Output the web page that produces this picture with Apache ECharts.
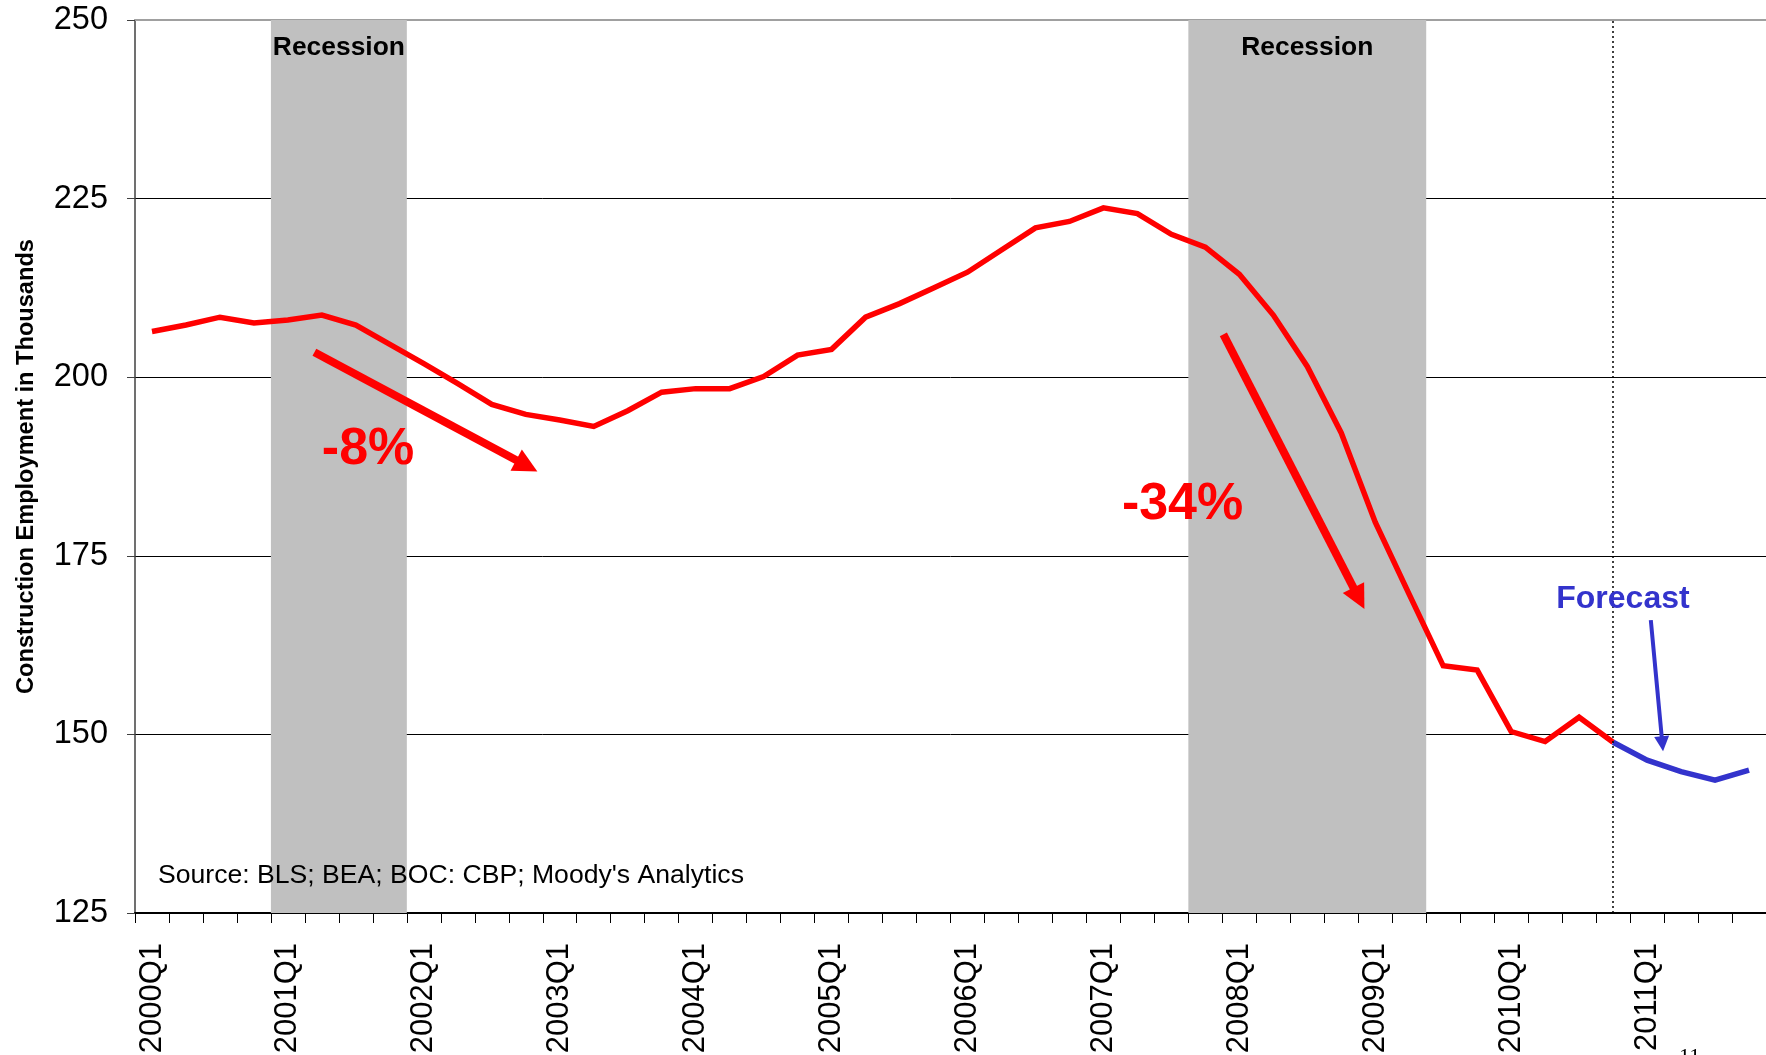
<!DOCTYPE html>
<html>
<head>
<meta charset="utf-8">
<script src="https://cdn.jsdelivr.net/npm/echarts/dist/echarts.min.js"></script>
<style>html,body{margin:0;padding:0;background:#fff;overflow:hidden}#c{width:1766px;height:1055px}</style>
</head>
<body>
<div id="c"></div>
<script>
// ---- data ----
const quarters = [
  '2000Q1','2000Q2','2000Q3','2000Q4','2001Q1','2001Q2','2001Q3','2001Q4',
  '2002Q1','2002Q2','2002Q3','2002Q4','2003Q1','2003Q2','2003Q3','2003Q4',
  '2004Q1','2004Q2','2004Q3','2004Q4','2005Q1','2005Q2','2005Q3','2005Q4',
  '2006Q1','2006Q2','2006Q3','2006Q4','2007Q1','2007Q2','2007Q3','2007Q4',
  '2008Q1','2008Q2','2008Q3','2008Q4','2009Q1','2009Q2','2009Q3','2009Q4',
  '2010Q1','2010Q2','2010Q3','2010Q4','2011Q1','2011Q2','2011Q3','2011Q4'
];
// actual construction employment, thousands (2000Q1 .. 2010Q4)
const actual = [
  206.4, 207.3, 208.4, 207.6, 208.0, 208.7, 207.3, 204.6,
  201.9, 199.1, 196.2, 194.8, 194.0, 193.1, 195.3, 197.9,
  198.4, 198.4, 200.1, 203.1, 203.9, 208.4, 210.3, 212.5,
  214.7, 217.8, 220.9, 221.8, 223.7, 222.9, 220.0, 218.2,
  214.4, 208.7, 201.5, 192.2, 179.7, 169.6, 159.6, 159.0,
  150.4, 149.0, 152.4, 148.9
];
// forecast (2010Q4 .. 2011Q4)
const forecastStart = '2010Q4';
const forecast = [148.9, 146.4, 144.8, 143.6, 145.0];
// recession periods (first and last quarter)
const recessions = [['2001Q1', '2001Q4'], ['2007Q4', '2009Q2']];
const recessionLabel = 'Recession';
// y axis ticks
const yMin = 125, yMax = 250, yStep = 25;
// annotations (positions in quarter-index / value units)
const notes = [
  { text: '-8%',      at: [6.36, 189.9], color: '#FF0000', size: 52 },
  { text: '-34%',     at: [30.33, 182.2], color: '#FF0000', size: 52 },
  { text: 'Forecast', at: [43.29, 168.9], color: '#3333CC', size: 32 }
];
const arrows = [
  { from: [4.78, 203.5], to: [11.03, 187.6], color: '#FF0000', width: 8, head: 24 },
  { from: [31.53, 206.0], to: [35.52, 169.05], color: '#FF0000', width: 8, head: 24 },
  { from: [44.11, 166.0], to: [44.45, 148.7], color: '#3333CC', width: 4, head: 15 }
];
const sourceText = "Source: BLS; BEA; BOC: CBP; Moody's Analytics";
const yTitle = 'Construction Employment in Thousands';

// ---- build ----
const FONT = "'Liberation Sans', Arial, Helvetica, sans-serif";
const idx = q => quarters.indexOf(q);
const actualSeries = quarters.map((q, i) => i < actual.length ? actual[i] : null);
const fStart = idx(forecastStart);
const forecastSeries = quarters.map((q, i) => (i >= fStart && i - fStart < forecast.length) ? forecast[i - fStart] : null);

const chart = echarts.init(document.getElementById('c'), null, { renderer: 'canvas' });
chart.setOption({
  animation: false,
  backgroundColor: '#fff',
  textStyle: { fontFamily: FONT },
  title: [
    { text: sourceText, left: 158, top: 862, padding: 0,
      textStyle: { fontSize: 26.6, fontWeight: 'normal', color: '#000', fontFamily: FONT } },
    { text: '11', left: 1679, top: 1046, padding: 0,
      textStyle: { fontSize: 22, fontWeight: 'normal', color: '#000', fontFamily: "'Liberation Serif', 'Times New Roman', serif" } }
  ],
  grid: { left: 135, right: 0, top: 20, bottom: 142, containLabel: false, outerBoundsMode: 'none' },
  xAxis: [
    {
      type: 'category', data: quarters, boundaryGap: true, position: 'bottom',
      axisLine: { show: true, onZero: false, lineStyle: { color: '#000', width: 2 } },
      axisTick: { show: true, interval: 0, length: 10, lineStyle: { color: '#000', width: 1 } },
      axisLabel: { interval: 3, rotate: 90, fontSize: 31, color: '#000', margin: 30, fontFamily: FONT },
      splitLine: { show: false }
    },
    {
      type: 'value', min: -0.5, max: quarters.length - 0.5, position: 'top',
      axisLine: { show: true, onZero: false, lineStyle: { color: '#A0A0A0', width: 2 } },
      axisTick: { show: false }, axisLabel: { show: false }, splitLine: { show: false }
    }
  ],
  yAxis: {
    type: 'value', min: yMin, max: yMax, interval: yStep,
    name: yTitle, nameLocation: 'middle', nameGap: 97, nameRotate: 90,
    nameTextStyle: { fontSize: 23.6, fontWeight: 'bold', color: '#000', fontFamily: FONT },
    axisLine: { show: true, onZero: false, lineStyle: { color: '#404040', width: 1.5 } },
    axisTick: { show: true, length: 8, lineStyle: { color: '#404040', width: 1 } },
    axisLabel: { fontSize: 32.5, color: '#000', margin: 27, fontFamily: FONT },
    splitLine: { show: true, showMinLine: false, showMaxLine: false, lineStyle: { color: '#000', width: 1 } }
  },
  series: [
    {
      name: 'recessions', type: 'line', xAxisIndex: 1, yAxisIndex: 0, data: [], z: 1, silent: true,
      markArea: {
        silent: true,
        itemStyle: { color: '#C0C0C0', opacity: 1 },
        label: { show: true, position: 'insideTop', distance: 15, color: '#000', fontSize: 26.4, fontWeight: 'bold', fontFamily: FONT },
        data: recessions.map(r => [
          { name: recessionLabel, xAxis: idx(r[0]) - 0.5 },
          { xAxis: idx(r[1]) + 0.5 }
        ])
      }
    },
    {
      name: 'Construction employment', type: 'line', data: actualSeries, z: 3,
      symbol: 'none', connectNulls: false,
      lineStyle: { color: '#FF0000', width: 5.5, join: 'miter' }, itemStyle: { color: '#FF0000' }
    },
    {
      name: 'Forecast', type: 'line', data: forecastSeries, z: 4,
      symbol: 'none', connectNulls: false,
      lineStyle: { color: '#3333CC', width: 5.5, join: 'miter' }, itemStyle: { color: '#3333CC' },
      markLine: {
        silent: true, symbol: ['none', 'none'], label: { show: false },
        lineStyle: { color: '#000', type: [2, 3], width: 1.5 },
        data: [{ xAxis: forecastStart }]
      }
    },
    {
      name: 'annotations', type: 'line', xAxisIndex: 1, yAxisIndex: 0, data: [], z: 5, silent: true,
      markLine: {
        silent: true, animation: false,
        label: { show: false },
        data: arrows.map(a => [
          { coord: a.from, symbol: 'none', lineStyle: { color: a.color, width: a.width, type: 'solid' } },
          { coord: a.to, symbol: 'triangle', symbolSize: [a.head, a.head], itemStyle: { color: a.color },
            lineStyle: { color: a.color, width: a.width, type: 'solid' } }
        ])
      },
      markPoint: {
        silent: true, animation: false,
        data: notes.map(n => ({
          coord: n.at, name: n.text, value: n.text, symbol: 'circle', symbolSize: 1,
          itemStyle: { color: 'rgba(0,0,0,0)' },
          label: { show: true, position: 'inside', formatter: n.text, color: n.color,
                   fontSize: n.size, fontWeight: 'bold', fontFamily: FONT }
        }))
      }
    }
  ]
});
</script>
</body>
</html>
